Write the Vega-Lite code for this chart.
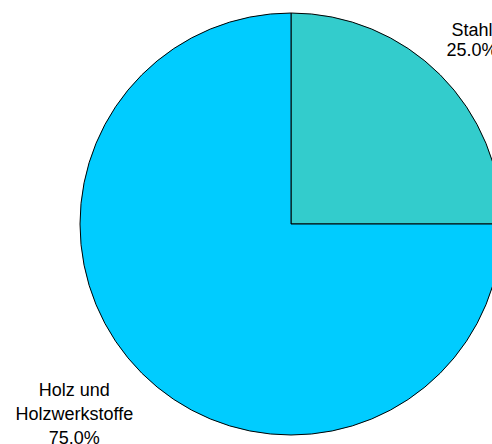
{
  "$schema": "https://vega.github.io/schema/vega-lite/v6.json",
  "width": 402,
  "height": 444,
  "padding": {"left": 90, "top": 2, "right": 0, "bottom": 0},
  "autosize": {"type": "none"},
  "background": "white",
  "view": {"stroke": null},
  "data": {
    "values": [
      {"category": "Stahl", "share": 25.0, "label": "Stahl\n25.0%"},
      {"category": "Holz und Holzwerkstoffe", "share": 75.0, "label": "Holz und\nHolzwerkstoffe\n75.0%"}
    ]
  },
  "layer": [
    {
      "mark": {"type": "arc", "outerRadius": 211, "stroke": "black", "strokeWidth": 1},
      "encoding": {
        "theta": {"field": "share", "type": "quantitative", "stack": true},
        "order": {"field": "category", "sort": "descending"},
        "color": {
          "field": "category",
          "type": "nominal",
          "scale": {"domain": ["Stahl", "Holz und Holzwerkstoffe"], "range": ["#33CCCC", "#00CCFF"]},
          "legend": null
        }
      }
    },
    {
      "transform": [
        {"stack": "share", "groupby": [], "sort": [{"field": "category", "order": "descending"}], "as": ["s0", "s1"]},
        {"calculate": "(datum.s0 + datum.s1) / 2", "as": "mid"},
        {"filter": "datum.category === 'Stahl'"}
      ],
      "mark": {"type": "text", "radius": 249, "dx": 5, "dy": -17, "font": "Liberation Sans", "fontSize": 18, "lineHeight": 20, "align": "center", "baseline": "middle", "lineBreak": "\n", "color": "black"},
      "encoding": {
        "theta": {"field": "mid", "type": "quantitative", "stack": null, "scale": {"domain": [0, 100]}},
        "text": {"field": "label"}
      }
    },
    {
      "transform": [
        {"stack": "share", "groupby": [], "sort": [{"field": "category", "order": "descending"}], "as": ["s0", "s1"]},
        {"calculate": "(datum.s0 + datum.s1) / 2", "as": "mid"},
        {"filter": "datum.category !== 'Stahl'"}
      ],
      "mark": {"type": "text", "radius": 288, "dx": -13, "dy": -37, "font": "Liberation Sans", "fontSize": 18, "lineHeight": 24, "align": "center", "baseline": "middle", "lineBreak": "\n", "color": "black"},
      "encoding": {
        "theta": {"field": "mid", "type": "quantitative", "stack": null, "scale": {"domain": [0, 100]}},
        "text": {"field": "label"}
      }
    }
  ],
  "resolve": {"scale": {"theta": "independent"}}
}
